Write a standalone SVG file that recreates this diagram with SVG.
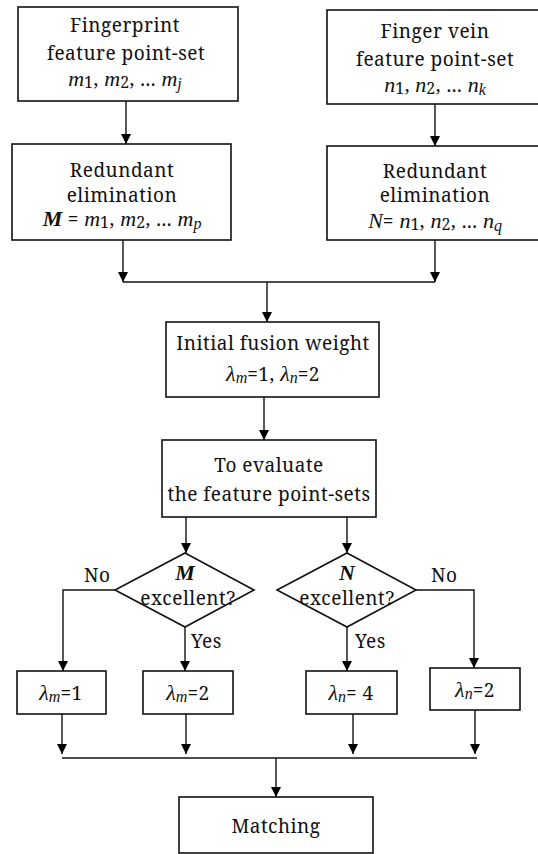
<svg xmlns="http://www.w3.org/2000/svg" width="538" height="854" viewBox="0 0 538 854">
<defs>
<marker id="ah" markerUnits="userSpaceOnUse" markerWidth="10" markerHeight="14" refX="10" refY="5" orient="auto">
<path d="M0,0 L10,5 L0,10 Z" fill="#000"/>
</marker>
<style>
.b{fill:#fff;stroke:#111;stroke-width:1.6}
.t{text-anchor:middle}
.i{font-family:'Liberation Serif','DejaVu Serif',serif;font-style:italic;font-size:22px;letter-spacing:0}
.bi{font-family:'Liberation Serif','DejaVu Serif',serif;font-style:italic;font-weight:bold;font-size:22px;letter-spacing:0}
.s{font-size:16px}
.c{fill:none;stroke:#111;stroke-width:1.4}
.a{fill:none;stroke:#111;stroke-width:1.4;marker-end:url(#ah)}
</style>
</defs>
<rect width="538" height="854" fill="#fff"/>
<g font-family="Noto Serif, DejaVu Serif, serif" font-size="19" letter-spacing="0.5" fill="#111">
<g id="connectors">
<path class="a" d="M126,101 V144"/>
<path class="a" d="M435,104 V146"/>
<path class="c" d="M123,282 H435"/>
<path class="a" d="M123,240 V282"/>
<path class="a" d="M435,240 V282"/>
<path class="a" d="M267,282 V322"/>
<path class="a" d="M264,397 V440"/>
<path class="a" d="M186,517 V553"/>
<path class="a" d="M347,517 V553"/>
<path class="a" d="M115,590 H63 V671"/>
<path class="a" d="M185,627 V671"/>
<path class="a" d="M347,627 V671"/>
<path class="a" d="M416,590 H474 V668"/>
<path class="a" d="M62,714 V754"/>
<path class="a" d="M186,714 V754"/>
<path class="a" d="M353,714 V754"/>
<path class="a" d="M475,710 V754"/>
<path class="c" d="M62,758 H477"/>
<path class="a" d="M276,758 V797"/>
<text x="84" y="582">No</text>
<text x="431" y="582">No</text>
<text x="191" y="648">Yes</text>
<text x="355" y="648">Yes</text>
</g>
<g id="fp">
<rect class="b" x="18" y="7" width="220" height="94"/>
<text class="t" x="125" y="32">Fingerprint</text>
<text class="t" x="126" y="60">feature point-set</text>
<text class="t" x="125" y="86"><tspan class="i">m</tspan><tspan class="s" dy="2">1</tspan><tspan dy="-2">, </tspan><tspan class="i">m</tspan><tspan class="s" dy="2">2</tspan><tspan dy="-2">, ...  </tspan><tspan class="i">m</tspan><tspan class="i s" dy="3">j</tspan></text>
</g>
<g id="fv">
<rect class="b" x="327" y="10" width="220" height="94"/>
<text class="t" x="435" y="38">Finger vein</text>
<text class="t" x="435" y="66">feature point-set</text>
<text class="t" x="435" y="92"><tspan class="i">n</tspan><tspan class="s" dy="2">1</tspan><tspan dy="-2">, </tspan><tspan class="i">n</tspan><tspan class="s" dy="2">2</tspan><tspan dy="-2">,  ...  </tspan><tspan class="i">n</tspan><tspan class="i s" dy="3">k</tspan></text>
</g>
<g id="re1">
<rect class="b" x="12" y="144" width="219" height="96"/>
<text class="t" x="122" y="177">Redundant</text>
<text class="t" x="122" y="202">elimination</text>
<text class="t" x="122" y="226"><tspan class="bi">M</tspan> = <tspan class="i">m</tspan><tspan class="s" dy="2">1</tspan><tspan dy="-2">, </tspan><tspan class="i">m</tspan><tspan class="s" dy="2">2</tspan><tspan dy="-2">, ...  </tspan><tspan class="i">m</tspan><tspan class="i s" dy="3">p</tspan></text>
</g>
<g id="re2">
<rect class="b" x="327" y="146" width="220" height="94"/>
<text class="t" x="435" y="178">Redundant</text>
<text class="t" x="435" y="202">elimination</text>
<text class="t" x="435" y="228"><tspan class="i">N</tspan>= <tspan class="i">n</tspan><tspan class="s" dy="2">1</tspan><tspan dy="-2">, </tspan><tspan class="i">n</tspan><tspan class="s" dy="2">2</tspan><tspan dy="-2">,  ...  </tspan><tspan class="i">n</tspan><tspan class="i s" dy="3">q</tspan></text>
</g>
<g id="init">
<rect class="b" x="166" y="322" width="213" height="75"/>
<text class="t" x="273" y="350">Initial fusion weight</text>
<text class="t" x="273" y="381"><tspan class="i">λ</tspan><tspan class="i s" dy="2">m</tspan><tspan dy="-2">=1, </tspan><tspan class="i">λ</tspan><tspan class="i s" dy="2">n</tspan><tspan dy="-2">=2</tspan></text>
</g>
<g id="eval">
<rect class="b" x="162" y="440" width="214" height="77"/>
<text class="t" x="269" y="472">To evaluate</text>
<text class="t" x="269" y="501">the feature point-sets</text>
</g>
<g id="dm">
<path class="b" d="M185,553 L254,590 L185,627 L115,590 Z" stroke-width="1"/>
<text class="t" x="185" y="580"><tspan class="bi">M</tspan></text>
<text class="t" x="188" y="605">excellent?</text>
</g>
<g id="dn">
<path class="b" d="M347,553 L416,590 L347,627 L277,590 Z" stroke-width="1"/>
<text class="t" x="347" y="580"><tspan class="bi">N</tspan></text>
<text class="t" x="347" y="605">excellent?</text>
</g>
<g id="m1">
<rect class="b" x="17" y="671" width="89" height="43"/>
<text class="t" x="61" y="700"><tspan class="i">λ</tspan><tspan class="i s" dy="2">m</tspan><tspan dy="-2">=1</tspan></text>
</g>
<g id="m2">
<rect class="b" x="143" y="671" width="90" height="43"/>
<text class="t" x="188" y="700"><tspan class="i">λ</tspan><tspan class="i s" dy="2">m</tspan><tspan dy="-2">=2</tspan></text>
</g>
<g id="n4">
<rect class="b" x="306" y="671" width="91" height="43"/>
<text class="t" x="351" y="700"><tspan class="i">λ</tspan><tspan class="i s" dy="2">n</tspan><tspan dy="-2">= 4</tspan></text>
</g>
<g id="n2">
<rect class="b" x="430" y="668" width="90" height="42"/>
<text class="t" x="475" y="697"><tspan class="i">λ</tspan><tspan class="i s" dy="2">n</tspan><tspan dy="-2">=2</tspan></text>
</g>
<g id="match">
<rect class="b" x="179" y="797" width="194" height="56"/>
<text class="t" x="276" y="833">Matching</text>
</g>
</g>
</svg>
